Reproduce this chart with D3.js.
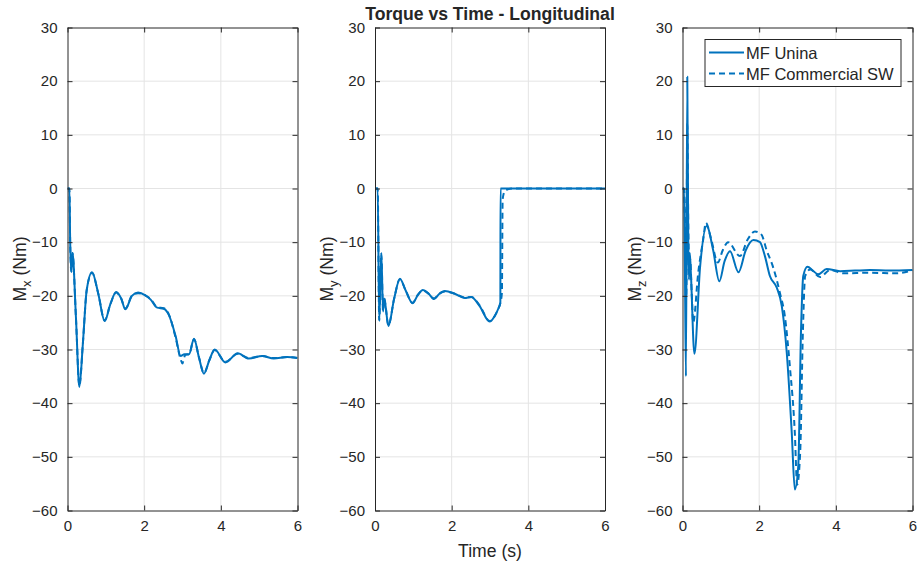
<!DOCTYPE html>
<html>
<head>
<meta charset="utf-8">
<script src="https://cdn.jsdelivr.net/npm/d3@7"></script>
<style>
  html, body { margin: 0; padding: 0; background: #ffffff; }
  svg { display: block; }
  text { font-family: "Liberation Sans", Arial, Helvetica, sans-serif; fill: #262626; }
</style>
</head>
<body>
<svg id="chart" width="924" height="564"></svg>
<script>
// ---------------- DATA ----------------
const chartTitle = "Torque vs Time - Longitudinal";
const xLabel = "Time (s)";
const seriesNames = ["MF Unina", "MF Commercial SW"];
const xTicks = [0, 2, 4, 6];
const yTicks = [30, 20, 10, 0, -10, -20, -30, -40, -50, -60];
const panelSubscripts = ["x", "y", "z"];

// Mx
const mxUninaTime = [0, 0.05, 0.07, 0.10, 0.13, 0.22, 0.31, 0.40, 0.50, 0.64, 0.80, 0.97, 1.12, 1.27, 1.40, 1.51, 1.68, 1.84, 2.03, 2.17, 2.34, 2.51, 2.64, 2.82, 2.95, 3.05, 3.17, 3.30, 3.43, 3.56, 3.70, 3.84, 4.12, 4.44, 4.73, 5.08, 5.38, 5.73, 6.0];
const mxUnina =     [0, 0, -10, -15.5, -12, -24, -37, -29, -19, -15.6, -19.5, -24.7, -21.5, -19.3, -20.5, -22.5, -20, -19.4, -19.9, -20.7, -22.2, -22.4, -23.5, -27.5, -31.2, -30.9, -30.9, -28, -31.5, -34.5, -32, -30, -32.4, -30.7, -31.7, -31.2, -31.7, -31.4, -31.6];
const mxCommTime =  [0, 0.05, 0.07, 0.10, 0.13, 0.22, 0.31, 0.40, 0.50, 0.64, 0.80, 0.97, 1.12, 1.27, 1.40, 1.51, 1.68, 1.84, 2.03, 2.17, 2.34, 2.51, 2.64, 2.82, 2.95, 3.00, 3.03, 3.08, 3.17, 3.30, 3.43, 3.56, 3.70, 3.84, 4.12, 4.44, 4.73, 5.08, 5.38, 5.73, 6.0];
const mxComm =      [0, 0, -10, -15.5, -12, -24, -36.8, -29, -19, -15.7, -19.5, -24.6, -21.5, -19.4, -20.5, -22.4, -20, -19.5, -19.9, -20.6, -22.1, -22.3, -23.4, -27.8, -31.8, -32.6, -31.8, -31.0, -30.9, -28.1, -31.5, -34.4, -32, -30.1, -32.3, -30.8, -31.6, -31.2, -31.6, -31.4, -31.6];

// My
const myUninaTime = [0, 0.07, 0.11, 0.165, 0.21, 0.24, 0.35, 0.50, 0.65, 0.80, 0.98, 1.12, 1.25, 1.40, 1.54, 1.68, 1.82, 2.08, 2.34, 2.51, 2.73, 2.99, 3.12, 3.21, 3.27, 3.275, 6.0];
const myUnina =     [0, 0, -24.7, -12, -22.9, -20.5, -25.6, -20.5, -16.8, -19, -21.4, -19.8, -18.9, -19.6, -20.6, -19.6, -19.1, -19.6, -20.4, -20.2, -21.9, -24.8, -23.8, -22.5, -21.3, 0, 0];
const myCommTime =  [0, 0.07, 0.11, 0.165, 0.21, 0.24, 0.35, 0.50, 0.65, 0.80, 0.98, 1.12, 1.25, 1.40, 1.54, 1.68, 1.82, 2.08, 2.34, 2.51, 2.73, 2.99, 3.12, 3.21, 3.27, 3.31, 3.33, 3.39, 3.45, 3.60, 6.0];
const myComm =      [0, 0, -24.5, -12.2, -22.8, -20.5, -25.5, -20.5, -16.9, -19, -21.3, -19.8, -19, -19.6, -20.5, -19.6, -19.2, -19.6, -20.3, -20.2, -21.8, -24.7, -23.8, -22.5, -21.3, -19.5, -2.0, -0.4, -0.2, 0, 0];

// Mz
const mzUninaTime = [0, 0.04, 0.06, 0.09, 0.125, 0.15, 0.17, 0.19, 0.22, 0.31, 0.46, 0.63, 0.80, 0.96, 1.10, 1.24, 1.46, 1.65, 1.85, 2.02, 2.15, 2.28, 2.46, 2.59, 2.72, 2.85, 2.93, 3.02, 3.09, 3.15, 3.26, 3.40, 3.54, 3.76, 4.11, 4.50, 4.89, 5.40, 6.0];
const mzUnina =     [0, 0, -12, -35, 20.8, -10, -17, -12, -16, -30.8, -14.5, -7, -11.5, -17.3, -13.5, -11.7, -15.6, -11.5, -9.6, -10, -12.6, -16.3, -18.5, -21.9, -30.6, -45.5, -56.1, -51.7, -26.9, -16.3, -14.6, -15.3, -16, -15, -15.4, -15.3, -15.2, -15.3, -15.2];
const mzCommTime =  [0, 0.04, 0.07, 0.10, 0.125, 0.15, 0.18, 0.20, 0.24, 0.28, 0.41, 0.54, 0.61, 0.75, 0.92, 1.05, 1.19, 1.50, 1.70, 1.89, 2.06, 2.19, 2.37, 2.54, 2.67, 2.80, 2.93, 2.99, 3.07, 3.14, 3.20, 3.33, 3.59, 3.85, 4.20, 4.89, 5.59, 6.0];
const mzComm =      [0, 0, -8, -20, 12, -6, -15, -13.2, -19.4, -25, -15.7, -9.5, -6.4, -9.5, -13.8, -11.5, -10, -12.6, -9.5, -8, -8.6, -11.4, -14.8, -19.4, -23.8, -33.1, -45.5, -55.2, -49.2, -26.9, -16.3, -15.1, -16.5, -15.2, -15.8, -15.7, -15.8, -15.2];

// ---------------- LAYOUT ----------------
const svg = d3.select("#chart");
const lineColor = "#0072BD";
const axisColor = "#262626";
const gridColor = "#e4e4e4";
const panelLefts = [67.5, 375, 682.5];
const panelW = 230;
const plotTop = 27.5, plotBottom = 510.5;

const panels = [
  { sub: panelSubscripts[0], series: [ {t: mxUninaTime, v: mxUnina, dash: null}, {t: mxCommTime, v: mxComm, dash: "6,4"} ] },
  { sub: panelSubscripts[1], series: [ {t: myUninaTime, v: myUnina, dash: null}, {t: myCommTime, v: myComm, dash: "6,4"} ] },
  { sub: panelSubscripts[2], series: [ {t: mzUninaTime, v: mzUnina, dash: null}, {t: mzCommTime, v: mzComm, dash: "6,4"} ] }
];

const y = d3.scaleLinear().domain([-60, 30]).range([plotBottom, plotTop]);

panels.forEach((p, i) => {
  const left = panelLefts[i];
  const x = d3.scaleLinear().domain([0, 6]).range([left, left + panelW]);
  const g = svg.append("g");

  // grid
  g.selectAll(".gx").data(xTicks.slice(1, -1)).enter().append("line")
    .attr("x1", d => x(d)).attr("x2", d => x(d)).attr("y1", plotTop).attr("y2", plotBottom)
    .attr("stroke", gridColor).attr("stroke-width", 1);
  g.selectAll(".gy").data(yTicks.slice(1, -1)).enter().append("line")
    .attr("x1", left).attr("x2", left + panelW).attr("y1", d => y(d)).attr("y2", d => y(d))
    .attr("stroke", gridColor).attr("stroke-width", 1);

  // data lines
  const clipId = "clip" + i;
  svg.append("clipPath").attr("id", clipId).append("rect")
    .attr("x", left).attr("y", plotTop).attr("width", panelW).attr("height", plotBottom - plotTop);
  const line = d3.line().x(d => x(d[0])).y(d => y(d[1])).curve(d3.curveMonotoneX);
  p.series.forEach(s => {
    const pts = s.t.map((t, k) => [t, s.v[k]]);
    g.append("path").datum(pts)
      .attr("d", line)
      .attr("fill", "none")
      .attr("stroke", lineColor)
      .attr("stroke-width", 2)
      .attr("stroke-linejoin", "round")
      .attr("stroke-dasharray", s.dash)
      .attr("clip-path", `url(#${clipId})`);
  });

  // axes (ticks inward, box)
  const axB = d3.axisBottom(x).tickValues(xTicks).tickSizeInner(-5).tickSizeOuter(0).tickPadding(10).tickFormat(d3.format("d"));
  const axT = d3.axisTop(x).tickValues(xTicks).tickSizeInner(-5).tickSizeOuter(0).tickFormat("");
  const axL = d3.axisLeft(y).tickValues(yTicks).tickSizeInner(-5).tickSizeOuter(0).tickPadding(10).tickFormat(d3.format("d"));
  const axR = d3.axisRight(y).tickValues(yTicks).tickSizeInner(-5).tickSizeOuter(0).tickFormat("");

  const gb = g.append("g").attr("transform", `translate(0,${plotBottom})`).call(axB);
  const gt = g.append("g").attr("transform", `translate(0,${plotTop})`).call(axT);
  const gl = g.append("g").attr("transform", `translate(${left},0)`).call(axL);
  const gr = g.append("g").attr("transform", `translate(${left + panelW},0)`).call(axR);
  [gb, gt, gl, gr].forEach(a => {
    a.select(".domain").attr("stroke", axisColor).attr("stroke-width", 1);
    a.selectAll(".tick line").attr("stroke", axisColor).attr("stroke-width", 1);
    a.selectAll(".tick text").attr("fill", axisColor).style("font-size", "15px")
      .style("font-family", "'Liberation Sans', Arial, sans-serif");
  });

  // y label with subscript
  const yl = g.append("text")
    .attr("transform", `translate(${left - 42},${(plotTop + plotBottom) / 2}) rotate(-90)`)
    .attr("text-anchor", "middle")
    .style("font-size", "17.6px");
  yl.append("tspan").text("M");
  yl.append("tspan").text(p.sub).attr("dy", 5).style("font-size", "13px");
  yl.append("tspan").text(" (Nm)").attr("dy", -5);
});

// title
svg.append("text")
  .attr("x", (panelLefts[1] + panelW / 2)).attr("y", 20)
  .attr("text-anchor", "middle")
  .style("font-size", "17.6px").style("font-weight", "bold")
  .attr("fill", "#000")
  .text(chartTitle);

// x label
svg.append("text")
  .attr("x", (panelLefts[1] + panelW / 2)).attr("y", 557)
  .attr("text-anchor", "middle")
  .style("font-size", "17.6px")
  .text(xLabel);

// legend
const lg = svg.append("g");
const lgX = 705, lgY = 39.5, lgW = 196, lgH = 47;
lg.append("rect").attr("x", lgX).attr("y", lgY).attr("width", lgW).attr("height", lgH)
  .attr("fill", "#fff").attr("stroke", axisColor).attr("stroke-width", 1);
const legendDash = [null, "6,4"];
seriesNames.forEach((name, k) => {
  const cy = lgY + 13 + k * 21;
  lg.append("line").attr("x1", lgX + 4).attr("x2", lgX + 39).attr("y1", cy).attr("y2", cy)
    .attr("stroke", lineColor).attr("stroke-width", 2).attr("stroke-dasharray", legendDash[k]);
  lg.append("text").attr("x", lgX + 41).attr("y", cy + 6)
    .style("font-size", "16.5px").text(name);
});
</script>
</body>
</html>
